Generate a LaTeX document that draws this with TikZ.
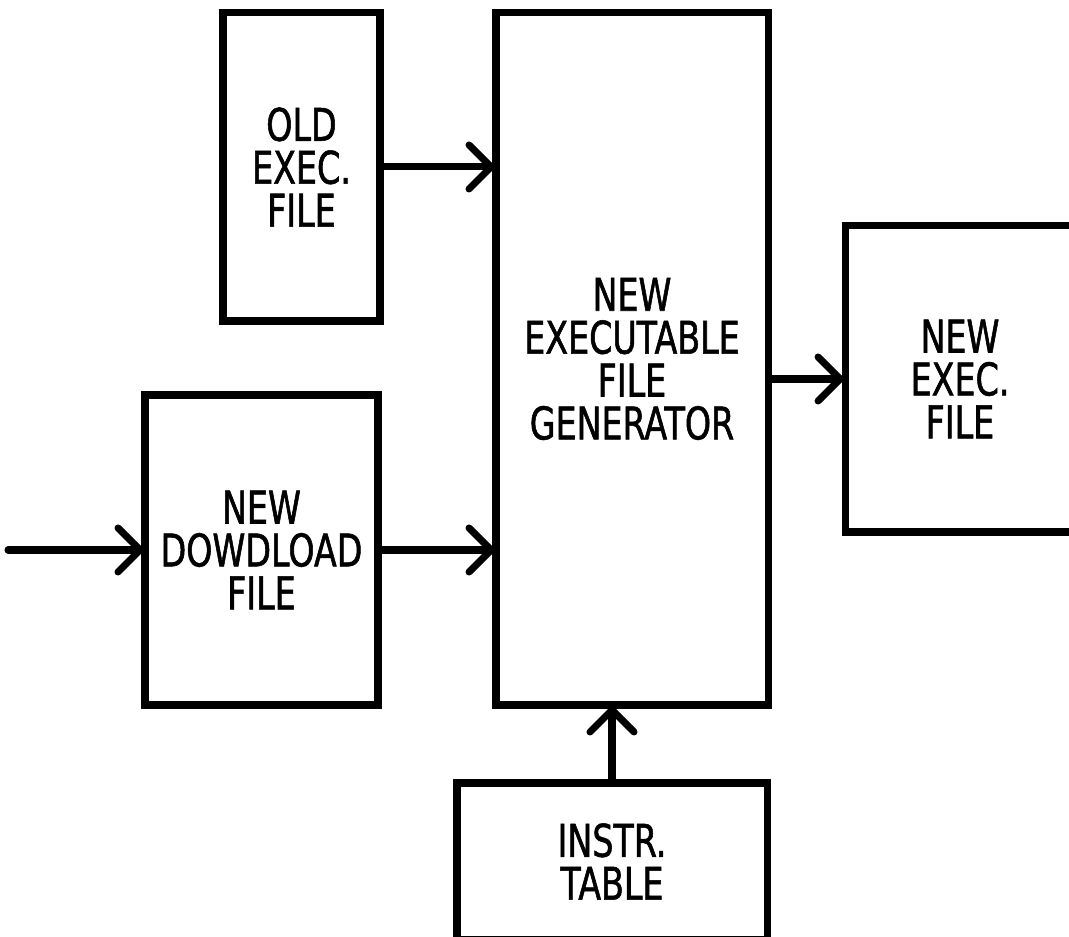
\documentclass[tikz,border=0pt]{standalone}
\usepackage{fontspec}
\setmainfont[FakeStretch=0.74,FakeBold=1.2]{DejaVu Sans}
\usetikzlibrary{arrows.meta,positioning,calc}
\tikzset{
  % plain plotter-style block, sizes given per node
  blk/.style  = {rectangle, draw=black, line width=2pt, align=center,
                 inner sep=0pt, font=\fontsize{12.8}{12.2}\selectfont},
  arr/.style  = {-{Straight Barb[length=2.2mm, width=4.4mm, line cap=round]},
                 line width=2pt, line cap=round, shorten >=-1pt},
}

\begin{document}
\begin{tikzpicture}[x=1cm,y=1cm]
\useasboundingbox (0,0) rectangle (10.69,9.36);
\clip (0,0) rectangle (10.69,9.36);
% blocks
\node[blk, minimum width=1.57cm, minimum height=3.08cm] (oldexec) at (3.015,7.69) {OLD\\EXEC.\\FILE};
\node[blk, minimum width=2.33cm, minimum height=3.10cm] (newdl) at (2.615,3.86) {NEW\\DOWDLOAD\\FILE};
\node[blk, minimum width=2.72cm, minimum height=6.92cm] (gen) at (6.32,5.77) {NEW\\EXECUTABLE\\FILE\\GENERATOR};
\node[blk, minimum width=2.30cm, minimum height=3.06cm] (newexec) at (9.60,5.57) {NEW\\EXEC.\\FILE};
\node[blk, minimum width=3.10cm, minimum height=1.57cm] (instr) at (6.12,0.745) {INSTR.\\TABLE};
% connectors
\coordinate (src) at (0.08,3.86);
\draw[arr] (src) -- (newdl.west);
\draw[arr] (oldexec.east) -- (oldexec.east -| gen.west);
\draw[arr] (newdl.east) -- (newdl.east -| gen.west);
\draw[arr] (newexec.west -| gen.east) -- (newexec.west);
\draw[arr] (instr.north) -- (instr.north |- gen.south);
\end{tikzpicture}
\end{document}
